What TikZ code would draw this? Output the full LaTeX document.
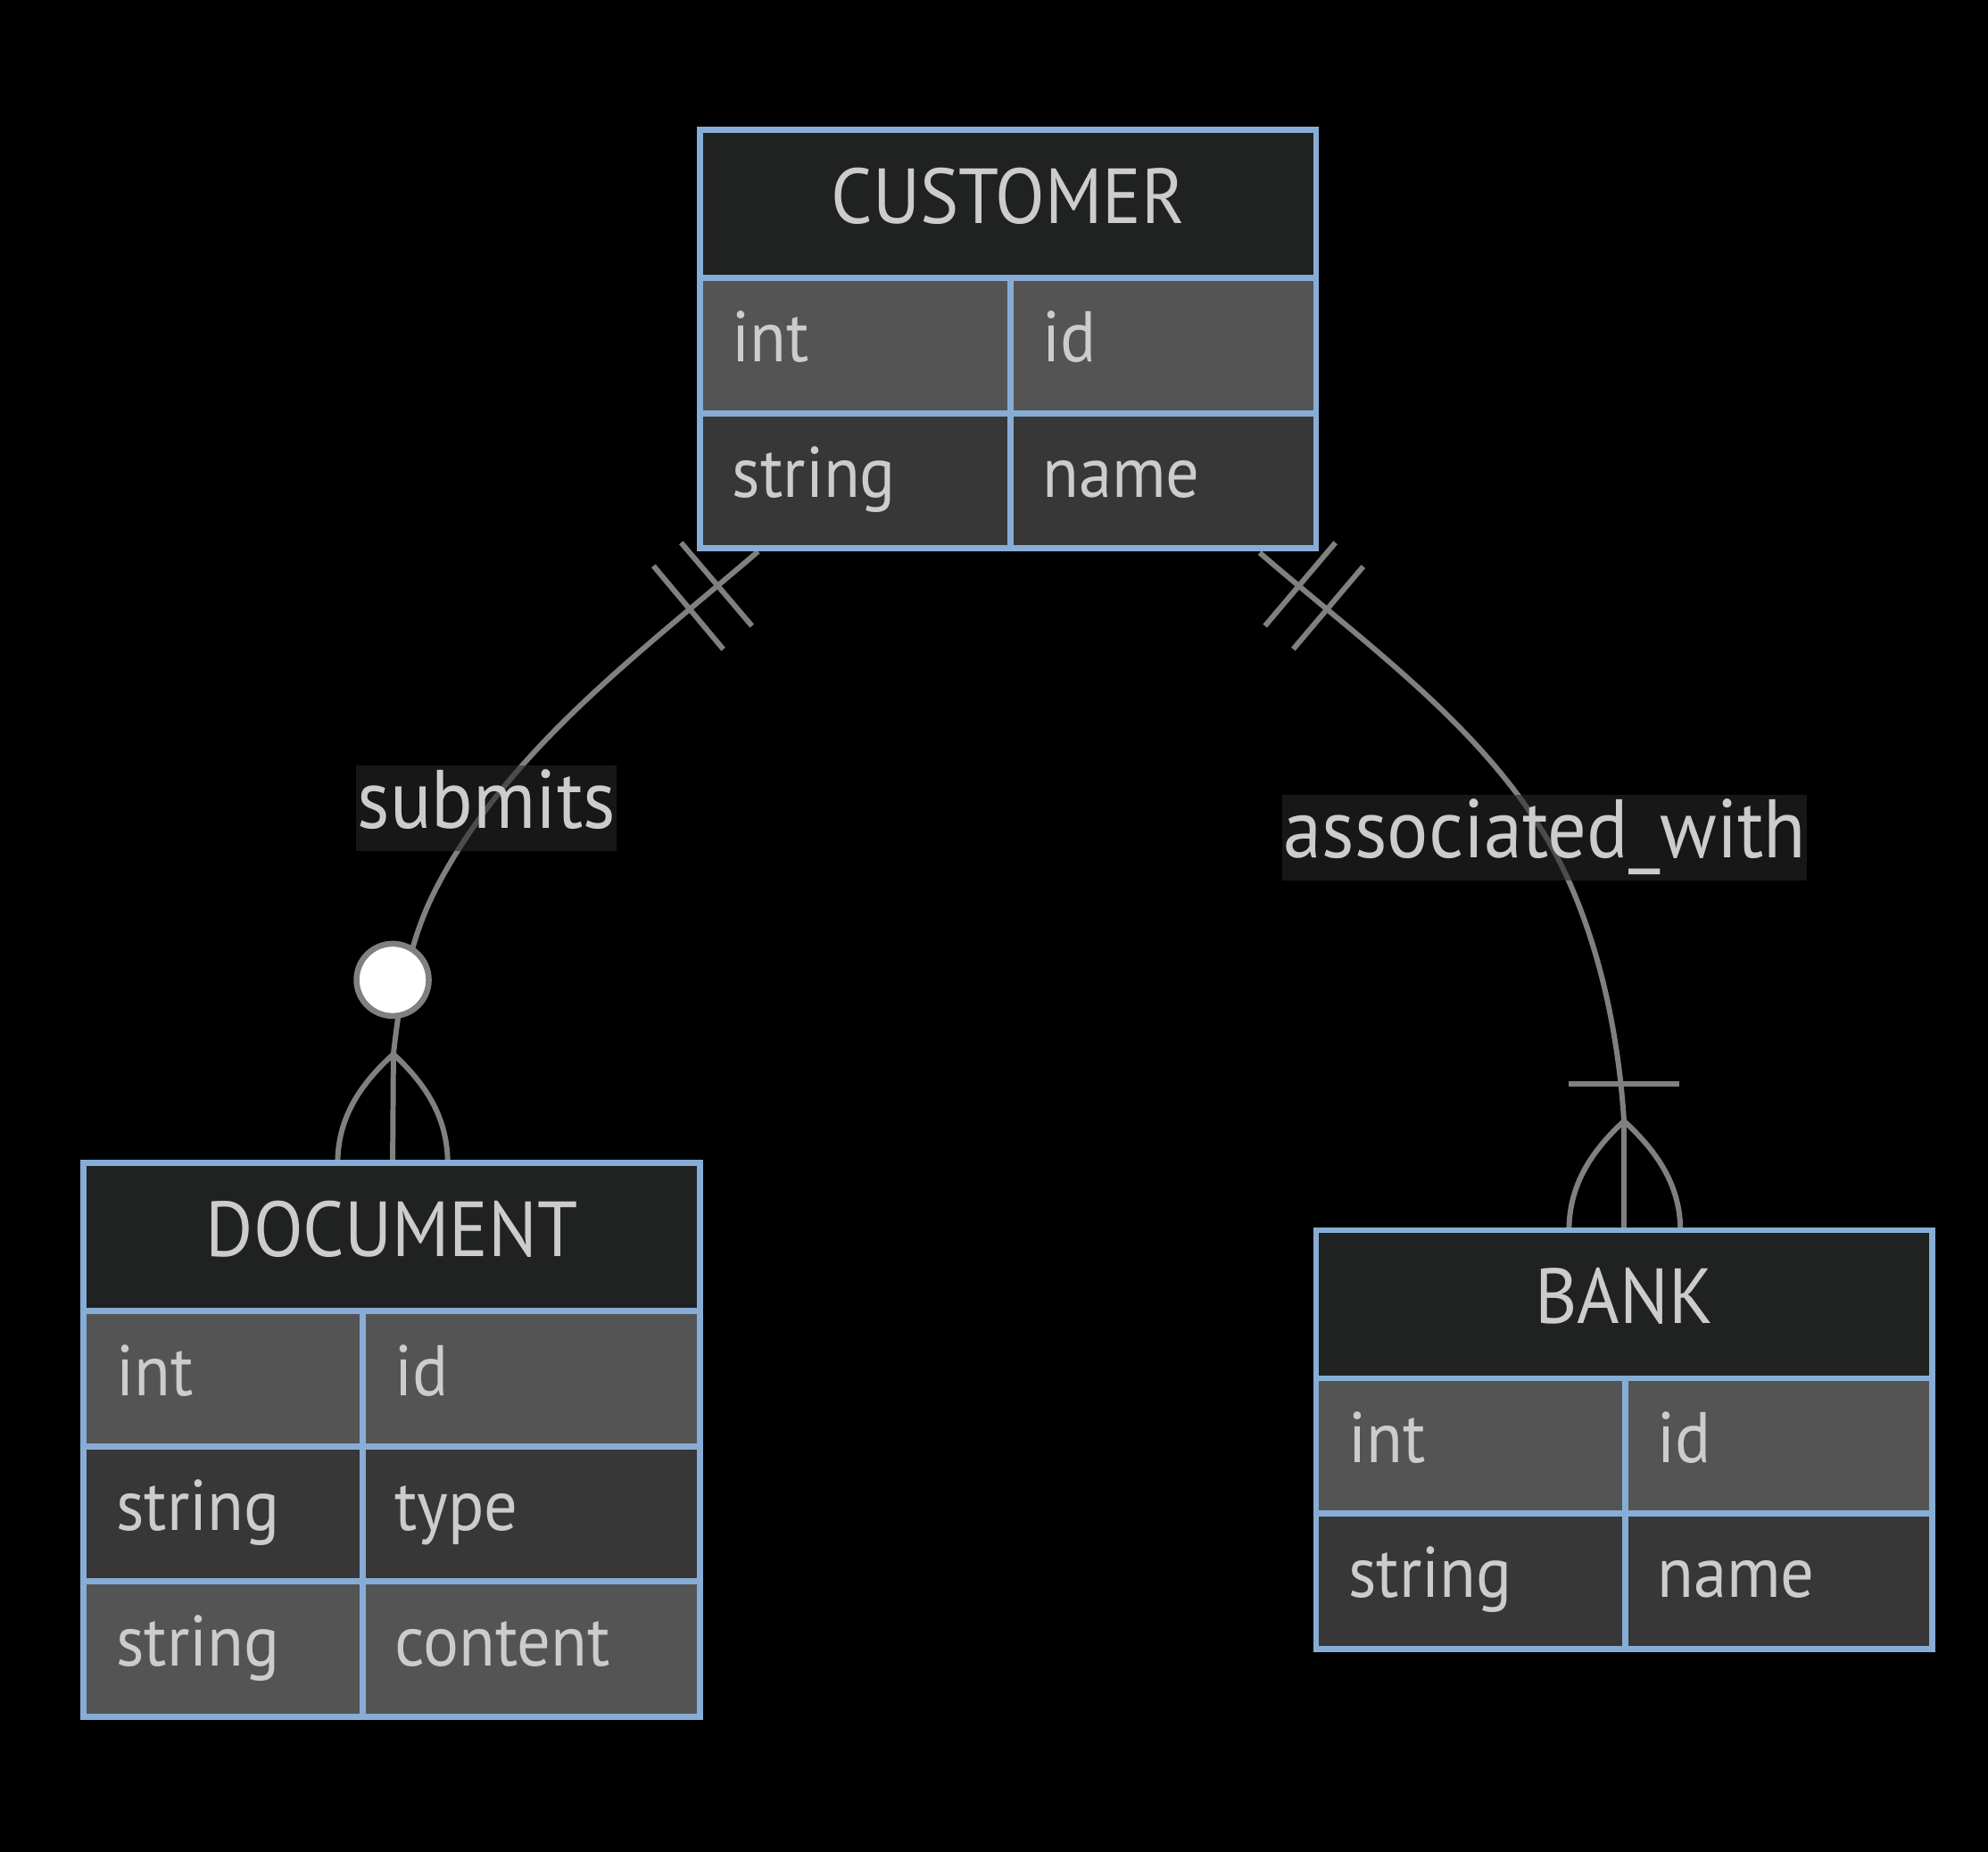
\documentclass[tikz,border=0pt]{standalone}
\usepackage{fontspec}
\setmainfont{PT Sans}[FakeStretch=0.93]
\definecolor{bordc}{RGB}{135,173,214}
\definecolor{hdrc}{RGB}{32,34,33}
\definecolor{rowa}{RGB}{84,84,84}
\definecolor{rowb}{RGB}{55,55,55}
\definecolor{txtc}{RGB}{204,204,204}
\definecolor{linec}{RGB}{128,128,128}
\definecolor{lblbg}{RGB}{40,40,40}
\tikzset{
  cell/.style={draw=bordc, line width=4.8pt, inner sep=0pt, outer sep=0pt, anchor=north west, minimum height=106.7pt},
  hdrcell/.style={cell, fill=hdrc, minimum width=486pt, minimum height=116.8pt},
  hdrtxt/.style={text=txtc, font=\fontsize{61.6}{66}\selectfont, anchor=base, inner sep=0pt},
  attxt/.style={text=txtc, font=\fontsize{56.5}{60}\selectfont, anchor=base west, inner sep=0pt},
  lbl/.style={text=txtc, font=\fontsize{65.5}{70}\selectfont, fill=lblbg, fill opacity=0.58, text opacity=1,
    anchor=base, inner xsep=1pt, inner ysep=0pt, text height=49.7pt, text depth=18.1pt},
  rel/.style={draw=linec, line width=4.2pt},
}
\begin{document}
\begin{tikzpicture}[x=1pt,y=-1pt]
\fill[black] (0,0) rectangle (1568,1461);
\useasboundingbox (0,0) rectangle (1568,1461);

% ---------- connectors ----------
\coordinate (s1) at (598,435);
\coordinate (m1) at (342.5,703.8);
\coordinate (j1) at (310.3,831.6);
\coordinate (e1) at (309.7,918);
\draw[rel] (s1) .. controls (503.9,515.7) and (398.3,593.4) .. (m1)
  .. controls (322.7,743) and (315.1,788) .. (j1);
% one-and-only-one at CUSTOMER
\draw[rel] (537.2,428.1) -- (593.1,493.8);
\draw[rel] (515.4,446.4) -- (570.5,512.2);
% zero-or-many at DOCUMENT
\draw[rel] (j1) -- (e1);
\draw[rel] (j1) .. controls (281,858) and (266.3,885) .. (266.3,918);
\draw[rel] (j1) .. controls (339,858) and (353.1,885) .. (353.1,918);
\node[circle, draw=linec, fill=white, line width=4.6pt, minimum size=57pt, inner sep=0pt] (zc) at (309.7,773) {};

\coordinate (s2) at (993.5,436);
\coordinate (m2) at (1236.6,693.4);
\coordinate (j2) at (1280.9,884.4);
\coordinate (e2) at (1280.9,971);
\draw[rel] (s2) .. controls (1082.7,513.2) and (1188.2,586) .. (m2)
  .. controls (1263.3,752.6) and (1276.7,819.4) .. (j2);
% one-and-only-one at CUSTOMER
\draw[rel] (1053.3,428.1) -- (997.7,493.8);
\draw[rel] (1075.2,446.9) -- (1020,512.1);
% one-or-many at BANK
\draw[rel] (1237.5,855.1) -- (1324.3,855.1);
\draw[rel] (j2) -- (e2);
\draw[rel] (j2) .. controls (1252,911) and (1237.5,938) .. (1237.5,971);
\draw[rel] (j2) .. controls (1310,911) and (1325.4,938) .. (1325.4,971);

% ---------- labels ----------
\node[lbl] (lsub) at (383.8,653.3) {submits};
\node[lbl] (lass) at (1218.5,676.7) {associated\_with};

% ---------- CUSTOMER ----------
\node[hdrcell] (cust) at (552,102.5) {};
\node[cell, fill=rowa, minimum width=245pt] (cust1a) at (552,219.3) {};
\node[cell, fill=rowa, minimum width=241pt] (cust1b) at (797,219.3) {};
\node[cell, fill=rowb, minimum width=245pt] (cust2a) at (552,326) {};
\node[cell, fill=rowb, minimum width=241pt] (cust2b) at (797,326) {};
\node[hdrtxt] (custt) at (795,176) {CUSTOMER};
\node[attxt] (custt1a) at (577.5,285.7) {int};
\node[attxt] (custt1b) at (822,285.7) {id};
\node[attxt] (custt2a) at (577.5,392.4) {string};
\node[attxt] (custt2b) at (822,392.4) {name};

% ---------- DOCUMENT ----------
\node[hdrcell] (doc) at (66,917.5) {};
\node[cell, fill=rowa, minimum width=220pt] (doc1a) at (66,1034.3) {};
\node[cell, fill=rowa, minimum width=266pt] (doc1b) at (286,1034.3) {};
\node[cell, fill=rowb, minimum width=220pt] (doc2a) at (66,1141) {};
\node[cell, fill=rowb, minimum width=266pt] (doc2b) at (286,1141) {};
\node[cell, fill=rowa, minimum width=220pt] (doc3a) at (66,1247.7) {};
\node[cell, fill=rowa, minimum width=266pt] (doc3b) at (286,1247.7) {};
\node[hdrtxt] (doct) at (309,991) {DOCUMENT};
\node[attxt] (doct1a) at (91.5,1100.7) {int};
\node[attxt] (doct1b) at (311,1100.7) {id};
\node[attxt] (doct2a) at (91.5,1207.4) {string};
\node[attxt] (doct2b) at (311,1207.4) {type};
\node[attxt] (doct3a) at (91.5,1314.1) {string};
\node[attxt] (doct3b) at (311,1314.1) {content};

% ---------- BANK ----------
\node[hdrcell] (bank) at (1038,970.5) {};
\node[cell, fill=rowa, minimum width=244pt] (bank1a) at (1038,1087.3) {};
\node[cell, fill=rowa, minimum width=242pt] (bank1b) at (1282,1087.3) {};
\node[cell, fill=rowb, minimum width=244pt] (bank2a) at (1038,1194) {};
\node[cell, fill=rowb, minimum width=242pt] (bank2b) at (1282,1194) {};
\node[hdrtxt] (bankt) at (1281,1044) {BANK};
\node[attxt] (bankt1a) at (1063.5,1153.7) {int};
\node[attxt] (bankt1b) at (1307,1153.7) {id};
\node[attxt] (bankt2a) at (1063.5,1260.4) {string};
\node[attxt] (bankt2b) at (1307,1260.4) {name};
\end{tikzpicture}
\end{document}
